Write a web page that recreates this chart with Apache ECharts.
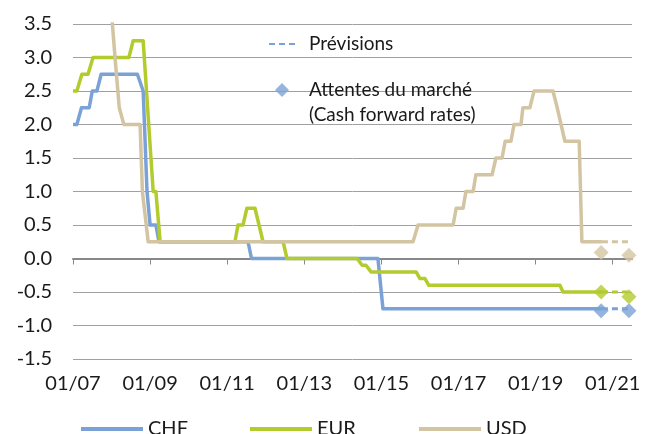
<!DOCTYPE html>
<html>
<head>
<meta charset="utf-8">
<script src="https://cdn.jsdelivr.net/npm/echarts@6/dist/echarts.min.js"></script>
<style>
  html, body { margin: 0; padding: 0; background: #fff; }
  #chart { width: 647px; height: 434px; }
</style>
</head>
<body>
<div id="chart"></div>
<script>
// dates are decimal years, rates in %
var baseYear = 2007
var xTickLabels = ['01/07', '01/09', '01/11', '01/13', '01/15', '01/17', '01/19', '01/21']

var chfDates = [2007.0, 2007.1, 2007.22, 2007.42, 2007.5, 2007.62, 2007.73, 2008.67, 2008.82, 2008.92, 2009.0, 2009.15, 2009.23, 2011.54, 2011.63, 2014.91, 2015.04, 2020.72]
var chfRates = [2.0, 2.0, 2.25, 2.25, 2.5, 2.5, 2.75, 2.75, 2.5, 1.0, 0.5, 0.5, 0.25, 0.25, 0.0, 0.0, -0.75, -0.75]

var eurDates = [2007.0, 2007.1, 2007.23, 2007.39, 2007.52, 2008.45, 2008.56, 2008.82, 2009.08, 2009.15, 2009.26, 2011.2, 2011.28, 2011.41, 2011.51, 2011.72, 2011.93, 2012.45, 2012.55, 2014.37, 2014.5, 2014.6, 2014.73, 2015.9, 2016.0, 2016.13, 2016.23, 2019.63, 2019.71, 2020.72]
var eurRates = [2.5, 2.5, 2.75, 2.75, 3.0, 3.0, 3.25, 3.25, 1.0, 1.0, 0.25, 0.25, 0.5, 0.5, 0.75, 0.75, 0.25, 0.25, 0.0, 0.0, -0.1, -0.1, -0.2, -0.2, -0.3, -0.3, -0.4, -0.4, -0.5, -0.5]

var usdDates = [2007.0, 2007.67, 2007.75, 2007.83, 2007.92, 2008.09, 2008.2, 2008.32, 2008.74, 2008.8, 2008.84, 2008.95, 2015.82, 2015.95, 2016.86, 2016.94, 2017.12, 2017.19, 2017.38, 2017.45, 2017.87, 2017.97, 2018.13, 2018.21, 2018.36, 2018.44, 2018.62, 2018.67, 2018.85, 2018.96, 2019.45, 2019.56, 2019.58, 2019.76, 2020.13, 2020.2, 2020.72]
var usdRates = [5.25, 5.25, 4.75, 4.5, 4.25, 3.0, 2.25, 2.0, 2.0, 1.0, 1.0, 0.25, 0.25, 0.5, 0.5, 0.75, 0.75, 1.0, 1.0, 1.25, 1.25, 1.5, 1.5, 1.75, 1.75, 2.0, 2.0, 2.25, 2.25, 2.5, 2.5, 2.25, 2.25, 1.75, 1.75, 0.25, 0.25]

// Prévisions (dashed)
var forecastDates = [2020.72, 2021.5]
var chfForecast = [-0.75, -0.75]
var eurForecast = [-0.5, -0.5]
var usdForecast = [0.25, 0.25]

// Attentes du marché (diamonds)
var marketDates = [2020.7, 2021.42]
var chfMarket = [-0.78, -0.78]
var eurMarket = [-0.5, -0.57]
var usdMarket = [0.09, 0.05]

var colors = { CHF: '#7ba2d6', EUR: '#b3cb2d', USD: '#d3c4a2' }
var font = 'Lato, "Open Sans", sans-serif'
var forecastName = 'Prévisions'
var marketName = 'Attentes du marché'

function pairs(dates, vals) {
  return dates.map(function(d, i) { return [d - baseYear, vals[i]] })
}

function histSeries(name, dates, vals) {
  return {
    name: name,
    type: 'line',
    symbol: 'none',
    data: pairs(dates, vals),
    lineStyle: { color: colors[name], width: 3.5, join: 'round' },
    itemStyle: { color: colors[name] },
    z: 3
  }
}

function forecastSeries(cur, vals) {
  return {
    name: forecastName,
    type: 'line',
    symbol: 'none',
    data: pairs(forecastDates, vals),
    lineStyle: { color: colors[cur], width: 3, type: [6, 4] },
    itemStyle: { color: colors[cur] },
    z: 3
  }
}

function marketSeries(cur, vals) {
  return {
    name: marketName,
    type: 'scatter',
    symbol: 'diamond',
    symbolSize: 15,
    data: pairs(marketDates, vals),
    itemStyle: { color: colors[cur] },
    z: 5
  }
}

function bottomLegend(name, left) {
  return {
    data: [name],
    left: left,
    top: 417,
    padding: 0,
    icon: 'rect',
    itemWidth: 62,
    itemHeight: 4,
    textStyle: { fontFamily: font, fontSize: 20, color: '#1a1a1a', lineHeight: 24 }
  }
}

var tickValues = xTickLabels.map(function(l, i) { return i * 2 })

var option = {
  animation: false,
  grid: { left: 73, right: 15, top: 24, bottom: 75 },
  legend: [
    bottomLegend('CHF', 81),
    bottomLegend('EUR', 250),
    bottomLegend('USD', 419),
    {
      data: [forecastName],
      left: 268,
      top: 31.5,
      padding: 0,
      itemWidth: 29,
      itemHeight: 14,
      itemStyle: { opacity: 0 },
      textStyle: { fontFamily: font, fontSize: 19, color: '#1a1a1a', lineHeight: 25, padding: [0, 0, 0, 6] }
    },
    {
      data: [marketName],
      left: 275,
      top: 52.5,
      padding: 0,
      itemWidth: 14,
      itemHeight: 14,
      // leading blank line keeps the first text line level with the diamond
      formatter: function(n) { return '\n' + n + '\n(Cash forward rates)' },
      textStyle: { fontFamily: font, fontSize: 19, color: '#1a1a1a', lineHeight: 25, padding: [0, 0, 0, 15] }
    }
  ],
  xAxis: [
    {
      type: 'value',
      min: 0,
      max: 14.5,
      interval: 2,
      position: 'bottom',
      axisLine: { show: false, onZero: false },
      axisTick: { show: false },
      splitLine: { show: false },
      axisLabel: {
        customValues: tickValues,
        formatter: function(v) { return xTickLabels[Math.round(v / 2)] },
        margin: 15,
        fontFamily: font,
        fontSize: 20,
        color: '#1a1a1a'
      }
    },
    {
      type: 'value',
      min: 0,
      max: 14.5,
      interval: 2,
      position: 'bottom',
      axisLine: { show: true, onZero: true, lineStyle: { color: '#888888', width: 2 } },
      axisTick: { show: true, customValues: tickValues, length: 6, lineStyle: { color: '#888888', width: 1 } },
      axisLabel: { show: false },
      splitLine: { show: false }
    }
  ],
  yAxis: {
    type: 'value',
    min: -1.5,
    max: 3.5,
    interval: 0.5,
    axisLine: { show: false },
    axisTick: { show: false },
    splitLine: { lineStyle: { color: '#a0a0a0', width: 1 } },
    axisLabel: {
      margin: 21,
      fontFamily: font,
      fontSize: 20,
      color: '#1a1a1a',
      formatter: function(v) { return v.toFixed(1) }
    }
  },
  series: [
    histSeries('CHF', chfDates, chfRates),
    histSeries('EUR', eurDates, eurRates),
    histSeries('USD', usdDates, usdRates),
    forecastSeries('CHF', chfForecast),
    forecastSeries('EUR', eurForecast),
    forecastSeries('USD', usdForecast),
    marketSeries('CHF', chfMarket),
    marketSeries('EUR', eurMarket),
    marketSeries('USD', usdMarket)
  ]
}

var chart = echarts.init(document.getElementById('chart'))
chart.setOption(option)
window.addEventListener('resize', function() {
  chart.resize()
})
</script>
</body>
</html>
